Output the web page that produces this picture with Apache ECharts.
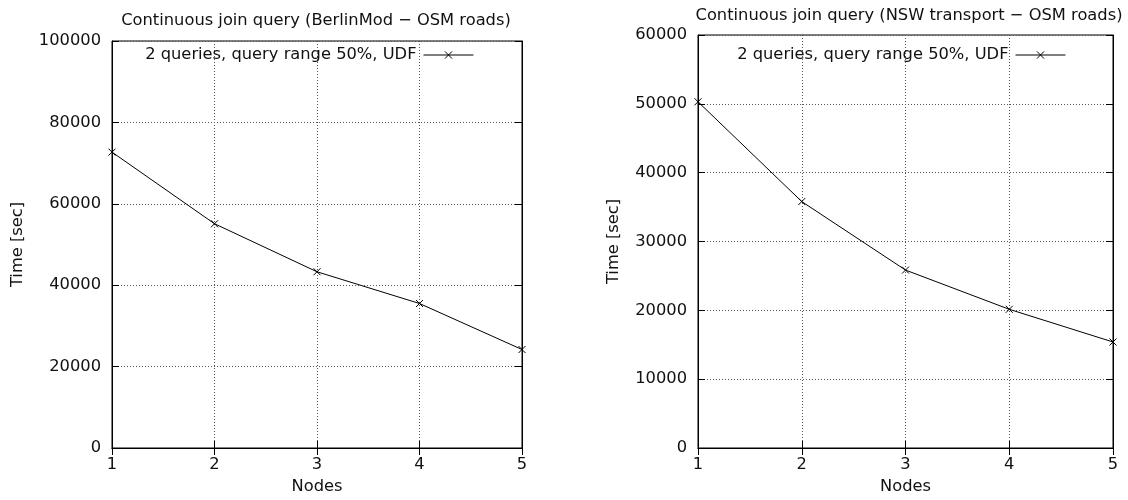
<!DOCTYPE html>
<html>
<head>
<meta charset="utf-8">
<script src="https://cdn.jsdelivr.net/npm/echarts@6/dist/echarts.min.js"></script>
<style>html,body{margin:0;padding:0;background:#fff}#c{width:1128px;height:500px}</style>
</head>
<body>
<div id="c"></div>
<script>
const nodes = [1, 2, 3, 4, 5];
const berlinTimes = [72700, 55100, 43300, 35500, 24200];
const nswTimes = [50300, 35800, 25850, 20150, 15400];
const seriesName = '2 queries, query range 50%, UDF';
const titleLeft = 'Continuous join query (BerlinMod \u2212 OSM roads)';
const titleRight = 'Continuous join query (NSW transport \u2212 OSM roads)';
const xName = 'Nodes';
const yName = 'Time [sec]';

const FONT = 'DejaVu Sans';
const FS = 16.3;
const TXT = '#111';
const crossPath = 'path://M0,0L10,10M0,10L10,0';

function mainX(gi) {
  return {
    type: 'value', gridIndex: gi, min: 1, max: 5, interval: 1,
    name: xName, nameLocation: 'middle', nameGap: 31,
    nameTextStyle: {fontFamily: FONT, fontSize: FS, color: TXT},
    axisLine: {show: true, lineStyle: {color: '#000', width: 1}},
    axisTick: {show: true, inside: true, length: 7, lineStyle: {color: '#000'}},
    axisLabel: {fontFamily: FONT, fontSize: FS, color: TXT, margin: 9, formatter: v => String(v)},
    splitLine: {show: true, lineStyle: {color: '#555', type: [1, 2], width: 1}}
  };
}
function mirrorX(gi) {
  return {
    type: 'value', gridIndex: gi, min: 1, max: 5, interval: 1, position: 'top',
    axisLine: {show: true, lineStyle: {color: '#000', width: 1}},
    axisTick: {show: true, inside: true, length: 7, lineStyle: {color: '#000'}},
    axisLabel: {show: false}, splitLine: {show: false}
  };
}
function mainY(gi, max, interval, gap) {
  return {
    type: 'value', gridIndex: gi, min: 0, max: max, interval: interval,
    name: yName, nameLocation: 'middle', nameGap: gap,
    nameTextStyle: {fontFamily: FONT, fontSize: FS, color: TXT},
    axisLine: {show: true, lineStyle: {color: '#000', width: 1}},
    axisTick: {show: true, inside: true, length: 7, lineStyle: {color: '#000'}},
    axisLabel: {fontFamily: FONT, fontSize: FS, color: TXT, margin: 11, formatter: v => String(v)},
    splitLine: {show: true, lineStyle: {color: '#555', type: [1, 2], width: 1}}
  };
}
function mirrorY(gi, max, interval) {
  return {
    type: 'value', gridIndex: gi, min: 0, max: max, interval: interval, position: 'right',
    axisLine: {show: true, lineStyle: {color: '#000', width: 1}},
    axisTick: {show: true, inside: true, length: 7, lineStyle: {color: '#000'}},
    axisLabel: {show: false}, splitLine: {show: false}
  };
}
function lineSeries(xi, yi, vals) {
  return {
    type: 'line', name: seriesName, xAxisIndex: xi, yAxisIndex: yi,
    data: nodes.map((n, i) => [n, vals[i]]),
    symbol: crossPath, symbolSize: 7, showSymbol: true,
    lineStyle: {color: '#000', width: 1},
    itemStyle: {color: 'none', borderColor: '#000', borderWidth: 1},
    emphasis: {disabled: true}, animation: false
  };
}
function legendAt(right) {
  return {
    data: [seriesName], right: right, top: 42, align: 'right', itemWidth: 50, itemHeight: 9,
    itemGap: 0, selectedMode: false,
    lineStyle: {width: 1, color: '#000'},
    itemStyle: {color: 'none', borderColor: '#000', borderWidth: 1},
    textStyle: {fontFamily: FONT, fontSize: FS, color: TXT, padding: [0, 2, 0, 0]}
  };
}

const chart = echarts.init(document.getElementById('c'), null, {renderer: 'canvas'});
chart.setOption({
  backgroundColor: '#fff',
  animation: false,
  title: [
    {text: titleLeft, left: 311, top: 8, textAlign: 'center',
     textStyle: {fontFamily: FONT, fontSize: FS, fontWeight: 'normal', color: TXT}},
    {text: titleRight, left: 904, top: 3, textAlign: 'center',
     textStyle: {fontFamily: FONT, fontSize: FS, fontWeight: 'normal', color: TXT}}
  ],
  legend: [legendAt(649), legendAt(57)],
  grid: [
    {left: 112, top: 41, width: 410, height: 410, show: true, borderColor: '#000', borderWidth: 1, backgroundColor: 'transparent'},
    {left: 698, top: 35, width: 415, height: 416, show: true, borderColor: '#000', borderWidth: 1, backgroundColor: 'transparent'}
  ],
  xAxis: [mainX(0), mainX(1), mirrorX(0), mirrorX(1)],
  yAxis: [mainY(0, 100000, 20000, 86), mainY(1, 60000, 10000, 76), mirrorY(0, 100000, 20000), mirrorY(1, 60000, 10000)],
  series: [lineSeries(0, 0, berlinTimes), lineSeries(1, 1, nswTimes)]
});
</script>
</body>
</html>
